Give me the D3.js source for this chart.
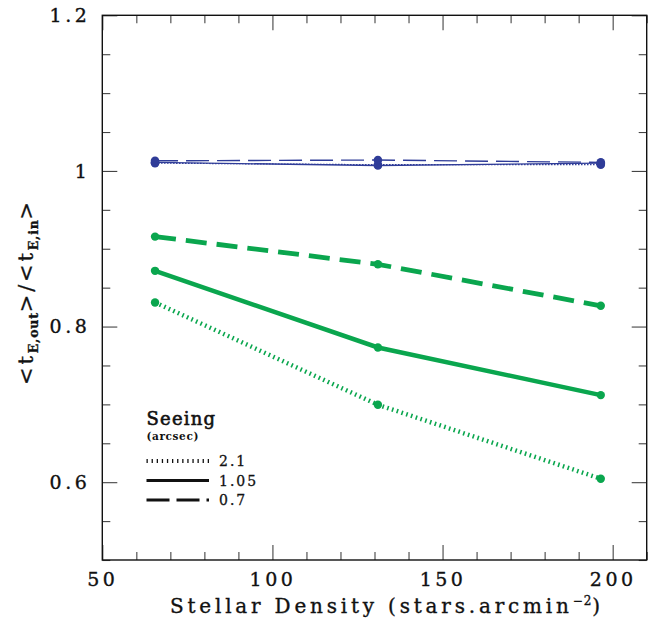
<!DOCTYPE html>
<html><head><meta charset="utf-8">
<script src="https://cdn.jsdelivr.net/npm/d3@7"></script>
<style>
body{margin:0;background:#fff}
text{font-family:"DejaVu Serif",serif;fill:#111}
</style></head>
<body><svg id="c" width="655" height="624"></svg>
<script>
// ---- data ----
const density = [65.5, 131, 196.5];
const seeingLabels = ["2.1", "1.05", "0.7"];
const green21  = [0.831, 0.6995, 0.6045];
const green105 = [0.8716, 0.7731, 0.7119];
const green07  = [0.9156, 0.880, 0.8267];
const blue21   = [1.010, 1.008, 1.008];
const blue105  = [1.011, 1.007, 1.010];
const blue07   = [1.013, 1.014, 1.011];
const xTicks = [50, 100, 150, 200];
const yTicks = [0.6, 0.8, 1, 1.2];

// ---- layout ----
const L = 102.3, R = 646.7, T = 15.3, B = 560;
const svg = d3.select("#c");
const x = d3.scaleLinear().domain([50, 210]).range([L, R]);
const y = d3.scaleLinear().domain([0.5, 1.2]).range([B, T]);
const GREEN = "#0aa64e", BLUE = "#2f3c98";

const xMinor = d3.range(50, 211, 10).filter(v => !xTicks.includes(v));
const yMinor = d3.range(0.5, 1.2001, 0.05).map(v => +v.toFixed(2)).filter(v => !yTicks.includes(v));

function styleAxis(g) {
  g.select(".domain").remove();
  g.selectAll(".tick line").attr("stroke", "#444").attr("stroke-width", 1.1);
}
function styleLabels(g) {
  g.selectAll("text").attr("font-size", 19).attr("letter-spacing", 3.5).attr("fill", "#111")
    .attr("stroke", "#111").attr("stroke-width", 0.35);
}
// bottom
svg.append("g").attr("transform", `translate(0,${B})`)
  .call(d3.axisBottom(x).tickValues(xTicks).tickSize(-15).tickPadding(13).tickFormat(d3.format("d")))
  .call(styleAxis).call(styleLabels);
svg.append("g").attr("transform", `translate(0,${B})`)
  .call(d3.axisBottom(x).tickValues(xMinor).tickSize(-8).tickFormat("")).call(styleAxis);
// top
svg.append("g").attr("transform", `translate(0,${T})`)
  .call(d3.axisTop(x).tickValues(xTicks).tickSize(-15).tickFormat("")).call(styleAxis);
svg.append("g").attr("transform", `translate(0,${T})`)
  .call(d3.axisTop(x).tickValues(xMinor).tickSize(-8).tickFormat("")).call(styleAxis);
// left
svg.append("g").attr("transform", `translate(${L},0)`)
  .call(d3.axisLeft(y).tickValues(yTicks).tickSize(-15).tickPadding(12).tickFormat(d => d3.format("")(d)))
  .call(styleAxis).call(styleLabels);
svg.append("g").attr("transform", `translate(${L},0)`)
  .call(d3.axisLeft(y).tickValues(yMinor).tickSize(-8).tickFormat("")).call(styleAxis);
// right
svg.append("g").attr("transform", `translate(${R},0)`)
  .call(d3.axisRight(y).tickValues(yTicks).tickSize(-15).tickFormat("")).call(styleAxis);
svg.append("g").attr("transform", `translate(${R},0)`)
  .call(d3.axisRight(y).tickValues(yMinor).tickSize(-8).tickFormat("")).call(styleAxis);

// frame
svg.append("rect").attr("x", L).attr("y", T).attr("width", R - L).attr("height", B - T)
  .attr("fill", "none").attr("stroke", "#111").attr("stroke-width", 1.4);

// ---- series ----
const line = d3.line().x(d => x(d[0])).y(d => y(d[1]));
const series = [
  {vals: green21,  color: GREEN, w: 4.5, dash: "1.6 3.4", r: 4.2},
  {vals: green105, color: GREEN, w: 4.5, dash: null,      r: 4.2},
  {vals: green07,  color: GREEN, w: 4.8, dash: "21 10",   r: 4.2},
  {vals: blue21,   color: BLUE,  w: 1.2, dash: "1.5 1.5", r: 4.3},
  {vals: blue105,  color: BLUE,  w: 1.3, dash: null,      r: 4.3},
  {vals: blue07,   color: BLUE,  w: 1.4, dash: "23 8",    r: 4.3}
];
series.forEach(s => {
  const pts = density.map((d, i) => [d, s.vals[i]]);
  svg.append("path").attr("d", line(pts)).attr("fill", "none")
    .attr("stroke", s.color).attr("stroke-width", s.w)
    .attr("stroke-dasharray", s.dash);
  svg.append("g").selectAll("circle").data(pts).join("circle")
    .attr("cx", d => x(d[0])).attr("cy", d => y(d[1])).attr("r", s.r).attr("fill", s.color);
});

// ---- legend ----
const lg = svg.append("g");
lg.append("text").attr("x", 146.5).attr("y", 425).attr("font-size", 18)
  .attr("stroke", "#111").attr("stroke-width", 0.6)
  .attr("letter-spacing", 1.2).text("Seeing");
lg.append("text").attr("x", 146.5).attr("y", 440).attr("font-size", 10.5).attr("font-weight", "bold")
  .attr("letter-spacing", 0.6).text("(arcsec)");
const legDash = ["1.3 3.8", null, "23 7"];
const legW = [4, 2.8, 2.8];
seeingLabels.forEach((lab, i) => {
  const yy = 461 + i * 19.5;
  lg.append("line").attr("x1", 146.5).attr("x2", 209).attr("y1", yy).attr("y2", yy)
    .attr("stroke", "#111").attr("stroke-width", legW[i]).attr("stroke-dasharray", legDash[i]);
  lg.append("text").attr("x", 219).attr("y", yy + 5).attr("font-size", 14)
    .attr("stroke", "#111").attr("stroke-width", 0.3)
    .attr("letter-spacing", 2).text(lab);
});

// ---- axis titles ----
svg.append("text").attr("x", 170).attr("y", 613).attr("font-size", 20).attr("letter-spacing", 3.8)
  .attr("stroke", "#111").attr("stroke-width", 0.35)
  .call(t => {
    t.append("tspan").text("Stellar Density (stars.arcmin");
    t.append("tspan").attr("dy", -8).attr("font-size", 12).attr("letter-spacing", 1).text("−2");
    t.append("tspan").attr("dy", 8).text(")");
  });

const yt = svg.append("text").attr("transform", "translate(33,292) rotate(-90)")
  .attr("text-anchor", "middle").attr("font-size", 21).attr("letter-spacing", 2.8)
  .attr("stroke", "#111").attr("stroke-width", 0.35);
yt.append("tspan").text("<t");
yt.append("tspan").attr("dy", 5).attr("font-size", 12.5).attr("font-weight", "bold").attr("letter-spacing", 0.8).text("E,out");
yt.append("tspan").attr("dy", -5).text(">/<t");
yt.append("tspan").attr("dy", 5).attr("font-size", 12.5).attr("font-weight", "bold").attr("letter-spacing", 0.8).text("E,in");
yt.append("tspan").attr("dy", -5).text(">");
</script>
</body></html>
